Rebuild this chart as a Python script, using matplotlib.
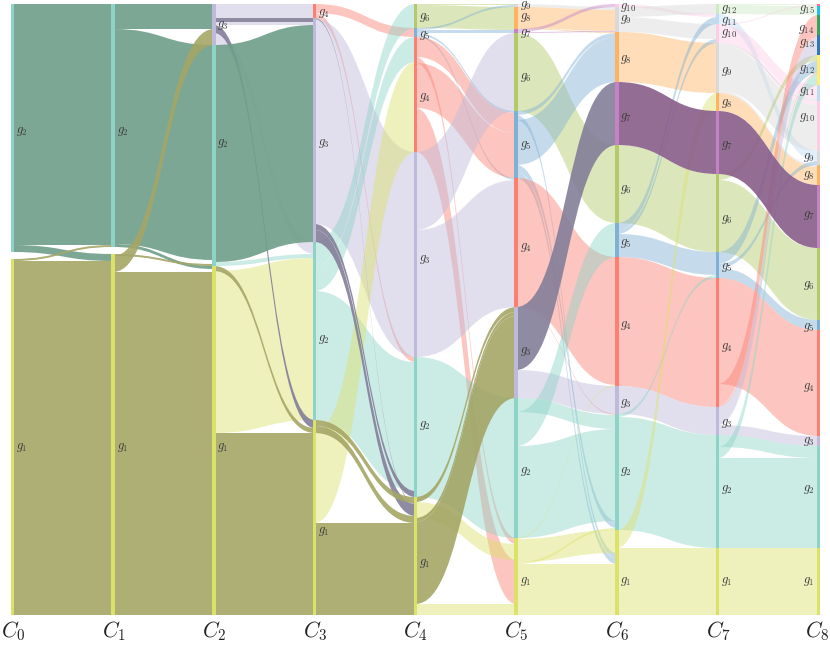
"""
Alluvial chart: groups g1..g15 tracked across the columns C0..C8
"""

import matplotlib
matplotlib.use("Agg")
import matplotlib.pyplot as plt
from matplotlib.patches import PathPatch, Rectangle
from matplotlib.path import Path

# ── data ───────────────────────────────────────────────
# one list per gap, top to bottom at the source side
# (source group, target group, size[, dark, rank])  rank = stacking at the target
# group 0 is empty space and is not drawn
GAP_0 = [(2, 2, 241, 1), (2, 1, 7, 1), (0, 0, 7), (1, 2, 2, 1), (1, 1, 354, 1)]
GAP_1 = [(2, 3, 25, 1), (2, 2, 215, 1), (2, 1, 3, 1), (0, 2, 4), (0, 1, 3),
         (1, 2, 2, 1), (1, 3, 16, 1), (1, 1, 343, 1)]
GAP_2 = [(3, 4, 14), (3, 3, 4, 1), (3, 3, 3), (3, 1, 8, 1), (3, 2, 12),
         (2, 3, 217, 1), (2, 2, 4),
         (1, 1, 5, 1), (1, 2, 162), (1, 1, 182, 1)]
GAP_3 = [(4, 5, 9), (4, 2, 5),
         (3, 1, 1, 1), (3, 3, 205), (3, 2, 6, 1, 1), (3, 1, 12, 1),
         (2, 6, 24), (2, 4, 25), (2, 2, 129),
         (1, 1, 6, 1, -1), (1, 1, 7, 1), (1, 4, 90), (1, 1, 92, 1)]
GAP_4 = [(6, 9, 1), (6, 8, 22), (6, 7, 1),
         (5, 9, 2), (5, 7, 3), (5, 5, 2), (5, 4, 2),
         (4, 5, 20), (4, 1, 3), (4, 1, 3), (4, 5, 45), (4, 1, 44, 0, 1),
         (3, 6, 78), (3, 4, 1), (3, 4, 126),
         (2, 2, 140),
         (1, 3, 5, 1), (1, 1, 16), (1, 3, 4, 1), (1, 3, 82, 1), (1, 1, 11, 0, 2)]
GAP_5 = [(9, 9, 3),
         (8, 9, 21), (8, 8, 1),
         (7, 10, 3), (7, 9, 1),
         (6, 6, 78),
         (5, 8, 4), (5, 1, 5), (5, 8, 45), (5, 2, 7, 0, 1), (5, 1, 6),
         (4, 4, 128), (4, 2, 1),
         (3, 7, 63, 1), (3, 3, 28),
         (2, 2, 14), (2, 5, 34), (2, 2, 92),
         (1, 4, 1), (1, 1, 23, 0, -1), (1, 2, 2, 0, 1), (1, 1, 51)]
GAP_6 = [(10, 11, 3),
         (9, 12, 10), (9, 10, 15),
         (8, 9, 50),
         (7, 7, 63, 1),
         (6, 6, 78),
         (5, 11, 7), (5, 10, 4), (5, 5, 23),
         (4, 4, 129),
         (3, 3, 28),
         (2, 5, 3), (2, 2, 113),
         (1, 8, 18), (1, 1, 67)]
GAP_7 = [(12, 16, 1), (12, 15, 9),
         (11, 9, 10),
         (10, 16, 1), (10, 11, 14), (10, 10, 4),
         (9, 11, 2), (9, 10, 46), (9, 8, 2),
         (8, 8, 18),
         (7, 7, 63, 1),
         (6, 12, 6), (6, 6, 72),
         (5, 12, 12), (5, 9, 4), (5, 5, 10),
         (4, 4, 106), (4, 14, 20), (4, 13, 2), (4, 12, 1),
         (3, 13, 18), (3, 3, 10),
         (2, 2, 12), (2, 12, 11), (2, 2, 90),
         (1, 1, 67)]
GAPS = [GAP_0, GAP_1, GAP_2, GAP_3, GAP_4, GAP_5, GAP_6, GAP_7]

COLUMN_LABELS = ["C_{0}", "C_{1}", "C_{2}", "C_{3}", "C_{4}", "C_{5}", "C_{6}", "C_{7}", "C_{8}"]

# ── style ──────────────────────────────────────────────
GROUP_COLORS = {1: "#dbe26a", 2: "#8dd3c7", 3: "#bebada", 4: "#fb8072", 5: "#80b1d3",
                6: "#b3c96a", 7: "#c583c6", 8: "#fdb462", 9: "#d9d9d9", 10: "#fccde5",
                11: "#bfdcf5", 12: "#ffed6f", 13: "#2f78b5", 14: "#33a65c", 15: "#1fc3e8",
                16: "#ff6fa0"}
DARK_COLORS = {1: "#a4a666", 2: "#6f9e8a", 3: "#837e99", 7: "#895d8a"}
COLOR_OVERRIDE = {(7, 12): "#ccebc5"}

X0, DX = 12.4, 100.75       # pixel position of C0, pixels between columns
TOP_PX = 4
RAIL_W = 3.6 / DX

# label centre per column, pixels from the top
LABEL_Y = [
    {2: 131, 1: 447},
    {2: 131, 1: 447},
    {3: 25, 2: 143, 1: 447},
    {4: 14, 3: 143, 2: 340, 1: 531},
    {6: 17, 5: 35, 4: 98, 3: 260, 2: 426, 1: 563},
    {9: 6, 8: 18, 7: 34, 6: 77, 5: 146, 4: 247, 3: 352, 2: 472, 1: 581},
    {10: 8, 9: 20, 8: 60, 7: 117, 6: 189, 5: 244, 4: 325, 3: 403, 2: 472, 1: 581},
    {12: 9, 11: 21, 10: 33, 9: 72, 8: 104, 7: 145, 6: 220, 5: 268, 4: 347, 3: 423, 2: 490, 1: 581},
    {15: 9, 14: 29, 13: 44, 12: 70, 11: 92, 10: 117, 9: 158, 8: 175, 7: 216, 6: 286, 5: 328,
     4: 388, 3: 441, 2: 490, 1: 581},
]


def stack_key(group):
    # top to bottom: high group first, empty space sits above g1
    return -1.5 if group == 0 else -group


def parse(flow):
    src, dst, val = flow[:3]
    dark = flow[3] if len(flow) > 3 else 0
    rank = flow[4] if len(flow) > 4 else 0
    return src, dst, val, dark, rank


def node_sizes(col):
    sizes = {}
    if col < len(GAPS):
        for fl in GAPS[col]:
            src, _, val, _, _ = parse(fl)
            sizes[src] = sizes.get(src, 0) + val
    else:
        for fl in GAPS[col - 1]:
            _, dst, val, _, _ = parse(fl)
            sizes[dst] = sizes.get(dst, 0) + val
    return sizes


def node_tops(sizes):
    tops, y = {}, 0
    for g in sorted(sizes, key=stack_key):
        tops[g] = y
        y += sizes[g]
    return tops


def ribbon(x0, x1, y0a, y0b, y1a, y1b):
    xm = (x0 + x1) / 2
    verts = [(x0, y0a), (xm, y0a), (xm, y1a), (x1, y1a),
             (x1, y1b), (xm, y1b), (xm, y0b), (x0, y0b), (x0, y0a)]
    codes = [Path.MOVETO, Path.CURVE4, Path.CURVE4, Path.CURVE4,
             Path.LINETO, Path.CURVE4, Path.CURVE4, Path.CURVE4, Path.CLOSEPOLY]
    return Path(verts, codes)


def get_color(col, group):
    return COLOR_OVERRIDE.get((col, group), GROUP_COLORS[group])


fig = plt.figure(figsize=(8.30, 6.48), dpi=100, facecolor="white")
ax = fig.add_axes([0, 0, 1, 1])
ax.set_xlim(-X0 / DX, (830 - X0) / DX)
ax.set_ylim(648 - TOP_PX, -TOP_PX)
ax.axis("off")
plt.rcParams["mathtext.fontset"] = "cm"

# ── ribbons ────────────────────────────────────────────
for col, gap in enumerate(GAPS):
    flows = [parse(f) for f in gap]
    src_tops = node_tops(node_sizes(col))
    dst_tops = node_tops(node_sizes(col + 1))

    dst_order = sorted(range(len(flows)), key=lambda i: (flows[i][4], i))
    dst_y = {}
    for i in dst_order:
        _, dst, val, _, _ = flows[i]
        dst_y[i] = dst_tops[dst]
        dst_tops[dst] += val

    for i, (src, dst, val, dark, _) in enumerate(flows):
        y0 = src_tops[src]
        src_tops[src] += val
        y1 = dst_y[i]
        if src == 0:
            continue
        path = ribbon(col, col + 1, y0, y0 + val, y1, y1 + val)
        if dark:
            patch = PathPatch(path, facecolor=DARK_COLORS[src], edgecolor="none", alpha=0.9, zorder=3)
        else:
            patch = PathPatch(path, facecolor=get_color(col, src), edgecolor="none", alpha=0.45, zorder=2)
        ax.add_patch(patch)

# ── rails and labels ───────────────────────────────────
for col in range(len(GAPS) + 1):
    sizes = node_sizes(col)
    tops = node_tops(sizes)
    for g, size in sizes.items():
        if g == 0:
            continue
        ax.add_patch(Rectangle((col - RAIL_W / 2, tops[g]), RAIL_W, size, facecolor=get_color(col, g),
                               edgecolor="none", zorder=4))

    last = col == len(GAPS)
    for g, y_px in LABEL_Y[col].items():
        ax.text(col + (-3.5 if last else 3.5) / DX, y_px - TOP_PX, f"$g_{{{g}}}$", fontsize=9,
                color="#3a3a3a", ha="right" if last else "left", va="center", zorder=5)

    ax.text(col + (-1.5 if last else 0.3) / DX, 631 - TOP_PX, f"${COLUMN_LABELS[col]}$", fontsize=15.5,
            color="#222222", ha="center", va="center", zorder=5)

fig.savefig("out.png", dpi=100)
